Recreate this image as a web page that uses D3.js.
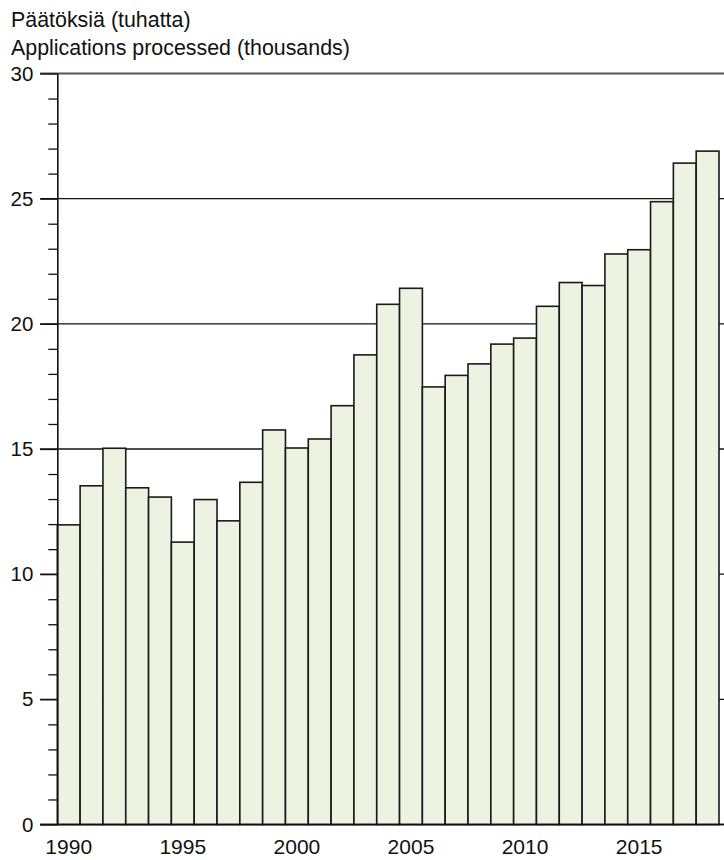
<!DOCTYPE html>
<html>
<head>
<meta charset="utf-8">
<script src="https://cdn.jsdelivr.net/npm/d3@7"></script>
<style>
  html, body { margin: 0; padding: 0; background: #fff; }
  svg { display: block; font-family: "Liberation Sans", Arial, sans-serif; }
</style>
</head>
<body>
<svg id="chart" width="724" height="860"></svg>
<script>
const years = [1990,1991,1992,1993,1994,1995,1996,1997,1998,1999,2000,2001,2002,2003,2004,2005,2006,2007,2008,2009,2010,2011,2012,2013,2014,2015,2016,2017,2018];
const values = [11.97,13.53,15.03,13.45,13.08,11.28,12.98,12.13,13.67,15.76,15.04,15.40,16.73,18.76,20.78,21.42,17.48,17.94,18.40,19.19,19.43,20.70,21.65,21.53,22.79,22.96,24.88,26.42,26.90];
const yMajorTicks = [0,5,10,15,20,25,30];
const yMinorTicks = [1,2,3,4,6,7,8,9,11,12,13,14,16,17,18,19,21,22,23,24,26,27,28,29];
const xTickYears = [1990,1995,2000,2005,2010,2015];
const titleLines = ["Päätöksiä (tuhatta)", "Applications processed (thousands)"];

const svg = d3.select("#chart");
const plotLeft = 57.3, plotRight = 719, plotTop = 73.5, plotBottom = 824.5;

const x = d3.scaleBand().domain(years).range([plotLeft, plotRight]).padding(0);
const y = d3.scaleLinear().domain([0, 30]).range([plotBottom, plotTop]);

// gridlines (behind bars)
svg.append("g").selectAll("line").data(yMajorTicks.filter(d => d < 30)).join("line")
  .attr("x1", 40).attr("x2", 724)
  .attr("y1", d => y(d)).attr("y2", d => y(d))
  .attr("stroke", "#111").attr("stroke-width", 1.3);

// bars
svg.append("g").selectAll("rect").data(years).join("rect")
  .attr("x", d => x(d))
  .attr("y", (d, i) => y(values[i]))
  .attr("width", x.bandwidth())
  .attr("height", (d, i) => y(0) - y(values[i]))
  .attr("fill", "#eef2e1")
  .attr("stroke", "#1a1a1a")
  .attr("stroke-width", 1.6);

// top gridline at 30
svg.append("line")
  .attr("x1", 40).attr("x2", 724)
  .attr("y1", y(30)).attr("y2", y(30))
  .attr("stroke", "#555").attr("stroke-width", 2);

// baseline
svg.append("line")
  .attr("x1", 40).attr("x2", 724)
  .attr("y1", y(0)).attr("y2", y(0))
  .attr("stroke", "#111").attr("stroke-width", 1.6);

// y axis
const yAxis = d3.axisLeft(y).tickValues(yMajorTicks).tickSize(17).tickPadding(7).tickSizeOuter(0);
const gy = svg.append("g").attr("transform", `translate(${plotLeft},0)`).call(yAxis);
gy.select(".domain").attr("stroke", "#111").attr("stroke-width", 1.6);
gy.selectAll(".tick line").attr("stroke", "#111").attr("stroke-width", 1.3);
gy.selectAll(".tick text").attr("font-size", 20.5).attr("fill", "#111")
  .attr("font-family", "'Liberation Sans', Arial, sans-serif");

const yMinor = d3.axisLeft(y).tickValues(yMinorTicks).tickSize(9).tickFormat("");
const gym = svg.append("g").attr("transform", `translate(${plotLeft},0)`).call(yMinor);
gym.select(".domain").remove();
gym.selectAll(".tick line").attr("stroke", "#111").attr("stroke-width", 1.3);

// x axis labels
const xAxis = d3.axisBottom(x).tickValues(xTickYears).tickSize(0).tickPadding(15);
const gx = svg.append("g").attr("transform", `translate(0,${plotBottom})`).call(xAxis);
gx.select(".domain").remove();
gx.selectAll(".tick text").attr("font-size", 21).attr("fill", "#111")
  .attr("font-family", "'Liberation Sans', Arial, sans-serif");

// title
svg.append("g").selectAll("text").data(titleLines).join("text")
  .attr("x", 11).attr("y", (d, i) => 27 + i * 28)
  .attr("font-size", 21.4).attr("fill", "#111")
  .text(d => d);
</script>
</body>
</html>
